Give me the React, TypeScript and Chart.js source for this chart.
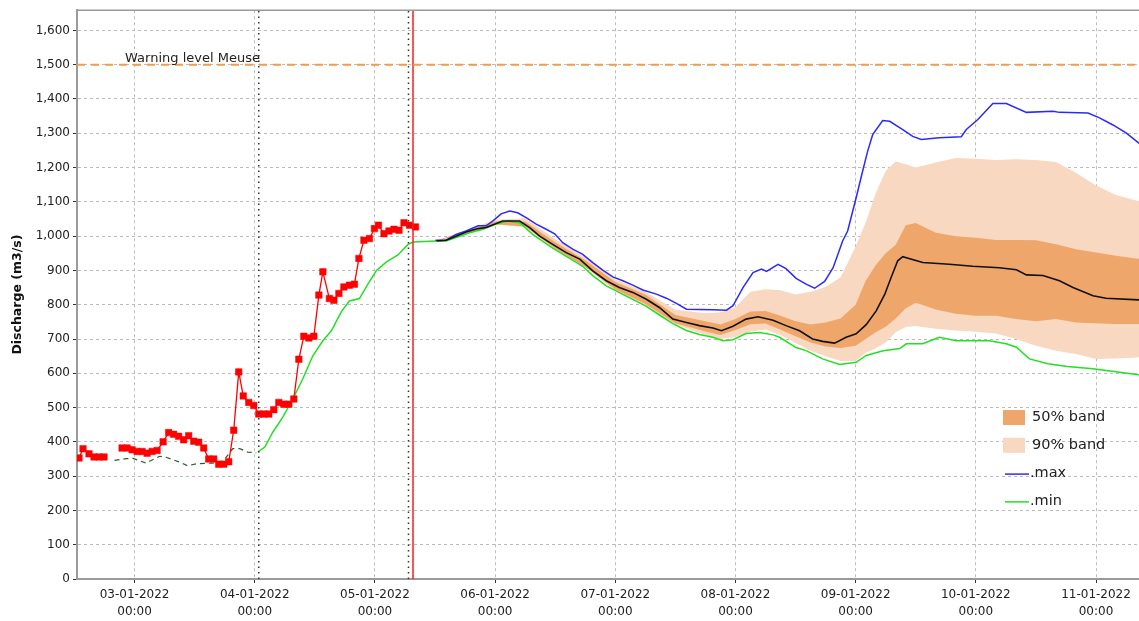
import React, { useEffect, useRef } from "react";
import { Chart, registerables } from "chart.js";

Chart.register(...registerables);

// ---------- axis ranges / ticks (hours relative to 03-01-2022 00:00) ----------
const X_MIN = -11.5;
const X_MAX = 203.3;
const Y_MAX = 1659;
const dayTickHours = [0, 24, 48, 72, 96, 120, 144, 168, 192];
const dayTickLabels = [
  "03-01-2022", "04-01-2022", "05-01-2022", "06-01-2022", "07-01-2022",
  "08-01-2022", "09-01-2022", "10-01-2022", "11-01-2022",
];
const tickTimeLabel = "00:00";
const yTickValues = [0, 100, 200, 300, 400, 500, 600, 700, 800, 900, 1000, 1100, 1200, 1300, 1400, 1500, 1600];
const yAxisTitle = "Discharge (m3/s)";

// ---------- observed discharge (red squares) ----------
const obsHours = [-11.1, -10.3, -9.1, -8.1, -7.1, -6.1, -4.3, -2.5, -1.5, -0.5, 0.5, 1.5, 2.5, 3.5, 4.5,
  5.7, 6.8, 7.8, 8.8, 9.8, 10.8, 11.8, 12.8, 13.8, 14.8, 15.8, 16.8, 17.8, 18.8, 19.8, 20.8,
  21.7, 22.8, 23.8, 24.8, 25.8, 26.8, 27.8, 28.8, 29.8, 30.8, 31.8, 32.8, 33.8, 34.8, 35.8, 36.8,
  37.6, 38.9, 39.8, 40.8, 41.8, 42.9, 43.9, 44.8, 45.8, 46.9, 47.9, 48.7, 49.8, 50.8, 51.8, 52.8, 53.8, 54.9, 56.1];
const obsValues = [353, 380, 365, 356, 356, 356, null, 382, 382, 377, 372, 372, 367, 372, 375,
  400, 427, 422, 416, 406, 418, 402, 399, 382, 350, 350, 335, 335, 342, 434, 604,
  534, 515, 506, 481, 481, 481, 494, 515, 510, 510, 525, 641, 708, 703, 708, 828,
  896, 818, 813, 833, 852, 857, 860, 935, 988, 993, 1022, 1032, 1007, 1015, 1020, 1017, 1039, 1032, 1027];

// ---------- simulated (dark green dashed) ----------
const simHours = [-4.0, -1.7, -0.3, 2.3, 5.0, 6.3, 9.0, 10.6, 12.3, 15.6, 17.6, 19.6, 21.0, 22.6, 24.3];
const simValues = [346, 351, 352, 338, 358, 355, 341, 330, 336, 338, 342, 380, 380, 370, 368];

// ---------- .min (green) ----------
const minHours = [24.6, 26.0, 27.6, 29.6, 31.6, 33.6, 35.6, 37.6, 39.3, 41.3, 42.9, 44.9, 46.6, 48.3, 50.3,
  52.6, 54.6, 55.6, 60.2, 62.2, 64.2, 66.9, 69.6, 72.2, 74.5, 76.9, 79.5, 83.5, 86.9, 89.5, 91.5, 94.2,
  98.2, 102.2, 104.8, 107.5, 110.2, 112.8, 115.5, 117.5, 119.5, 122.1, 124.8, 127.5, 128.8, 132.1, 134.1,
  137.4, 140.8, 144.1, 146.1, 149.5, 152.8, 154.1, 157.4, 160.7, 164.1, 170.7, 174.1, 176.1, 178.7, 182.4,
  186.3, 191.4, 194.0, 200.5, 203.9];
const minValues = [370, 385, 428, 472, 525, 584, 651, 695, 724, 780, 811, 818, 860, 900, 925,
  945, 976, 983, 986, 986, 996, 1010, 1020, 1035, 1044, 1039, 1005, 965, 935, 912, 885, 855,
  825, 795, 770, 745, 725, 713, 705, 695, 698, 716, 719, 712, 705, 675, 666,
  642, 626, 632, 652, 666, 672, 686, 686, 705, 695, 695, 686, 676, 642, 628,
  620, 613, 608, 596, 592];

// ---------- .max (blue) ----------
const maxHours = [60.1, 62.2, 64.2, 66.2, 68.6, 70.2, 71.5, 73.2, 74.9, 76.5, 78.2, 80.2, 82.2, 83.9, 85.5,
  87.5, 89.5, 91.5, 93.5, 95.5, 97.5, 99.5, 101.5, 104.2, 106.2, 108.2, 110.2, 112.8, 115.5, 118.2,
  119.5, 121.5, 123.5, 125.2, 126.2, 128.5, 130.1, 132.1, 134.1, 135.8, 137.8, 139.5, 141.4, 142.4, 144.1,
  145.4, 146.4, 147.4, 149.4, 150.8, 153.4, 155.4, 157.1, 160.7, 165.1, 166.1, 168.4, 171.4, 174.1, 178.1,
  183.4, 184.7, 190.4, 192.7, 195.3, 198.0, 200.5, 203.9];
const maxValues = [988, 988, 1005, 1015, 1030, 1030, 1044, 1065, 1073, 1068, 1054, 1035, 1020, 1007, 981,
  962, 947, 923, 901, 881, 870, 857, 843, 831, 819, 804, 787, 786, 785, 784,
  797, 850, 894, 904, 897, 918, 905, 877, 860, 848, 868, 908, 986, 1015, 1112,
  1190, 1248, 1296, 1337, 1335, 1311, 1291, 1282, 1287, 1290, 1311, 1340, 1387, 1387, 1361,
  1364, 1361, 1359, 1345, 1325, 1301, 1272, 1240];

// ---------- median (black) ----------
const medHours = [60.3, 62.2, 64.2, 66.2, 68.6, 70.2, 73.5, 76.9, 78.9, 80.9, 83.5, 86.2, 88.9, 91.5, 94.2,
  96.8, 99.5, 102.2, 104.8, 107.5, 110.2, 112.8, 115.5, 117.2, 119.5, 122.1, 124.5, 127.5, 130.1, 132.8,
  135.4, 137.4, 139.8, 142.1, 144.1, 146.1, 148.1, 149.8, 151.1, 152.4, 153.4, 157.4, 162.7, 167.4, 172.7,
  176.1, 178.1, 181.4, 184.7, 187.4, 191.4, 194.0, 200.5, 203.9];
const medValues = [986, 988, 1000, 1012, 1022, 1025, 1044, 1044, 1025, 1000, 976, 952, 933, 899, 870,
  850, 836, 816, 792, 758, 748, 739, 732, 724, 737, 758, 765, 755, 739, 724,
  700, 693, 688, 705, 715, 742, 782, 830, 880, 928, 940, 923, 918, 912, 908,
  902, 887, 885, 870, 850, 826, 819, 814, 812];

// ---------- uncertainty bands ----------
const bandHours = [60, 66, 72, 78, 84, 90, 96, 102, 108, 114, 117, 120, 123, 126, 129, 132, 135, 138, 141,
  144, 146, 148, 150, 152, 154, 156, 160, 164, 168, 172, 176, 180, 184, 188, 192, 196, 200, 204];
const band50Lo = [986, 1007, 1035, 1028, 964, 911, 845, 802, 746, 722, 712, 726, 743, 745, 727, 708, 690, 678, 674,
  680, 700, 720, 736, 760, 790, 806, 786, 774, 768, 768, 758, 752, 758, 748, 746, 744, 744, 744];
const band50Hi = [986, 1014, 1043, 1043, 982, 930, 866, 830, 770, 752, 742, 758, 780, 782, 768, 752, 742, 748, 760,
  800, 870, 915, 950, 975, 1032, 1038, 1010, 1000, 995, 989, 989, 988, 976, 962, 952, 943, 935, 930];
const band90Lo = [986, 1006, 1034, 1026, 962, 909, 841, 797, 743, 712, 700, 706, 722, 728, 712, 688, 666, 650, 636,
  636, 660, 672, 690, 720, 735, 738, 730, 725, 721, 716, 700, 680, 666, 656, 642, 643, 646, 650];
const band90Hi = [986, 1016, 1048, 1052, 992, 938, 874, 838, 785, 775, 778, 792, 838, 845, 842, 830, 838, 852, 880,
  970, 1040, 1125, 1190, 1218, 1210, 1200, 1215, 1228, 1226, 1222, 1224, 1222, 1216, 1185, 1148, 1120, 1104, 1090];

// ---------- reference lines ----------
const warningLevel = 1500;
const warningLabel = "Warning level Meuse";
const warningLabelHour = -1.9;
const forecastStartHour = 55.6;
const markerHours = [24.8, 54.7];

const legendItems = [
  { label: "50% band", kind: "box", color: "#eea66b" },
  { label: "90% band", kind: "box", color: "#f8d8c0" },
  { label: ".max", kind: "line", color: "#2a2aff" },
  { label: ".min", kind: "line", color: "#22e022" },
];

const FONT = '"DejaVu Sans", Verdana, sans-serif';

function zip(xs: number[], ys: (number | null)[]) {
  return xs.map((x, i) => ({ x, y: ys[i] }));
}

export default function App() {
  const canvasRef = useRef<HTMLCanvasElement | null>(null);

  useEffect(() => {
    const canvas = canvasRef.current;
    if (!canvas) return;

    const overlay = {
      id: "overlay",
      afterDatasetsDraw(chart: any) {
        const { ctx, scales } = chart;
        ctx.save();
        ctx.font = `13px ${FONT}`;
        ctx.fillStyle = "#222";
        ctx.textBaseline = "alphabetic";
        ctx.textAlign = "left";
        ctx.fillText(warningLabel, scales.x.getPixelForValue(warningLabelHour), scales.y.getPixelForValue(warningLevel) - 3);
        ctx.restore();
      },
      afterDraw(chart: any) {
        const { ctx, chartArea } = chart;
        ctx.save();
        // top frame
        ctx.strokeStyle = "#9a9a9a";
        ctx.lineWidth = 1.5;
        ctx.beginPath();
        ctx.moveTo(chartArea.left, chartArea.top);
        ctx.lineTo(chartArea.right, chartArea.top);
        ctx.stroke();
        // legend
        const lx = 1003;
        const ly = 410;
        const rowH = 27.8;
        ctx.font = `14.5px ${FONT}`;
        ctx.textBaseline = "middle";
        ctx.textAlign = "left";
        legendItems.forEach((it, i) => {
          const cy = ly + 7.5 + i * rowH;
          if (it.kind === "box") {
            ctx.fillStyle = it.color;
            ctx.fillRect(lx, cy - 7.5, 22, 15);
          } else {
            ctx.strokeStyle = it.color;
            ctx.lineWidth = 1.5;
            ctx.beginPath();
            ctx.moveTo(lx + 2, cy + 1);
            ctx.lineTo(lx + 26, cy + 1);
            ctx.stroke();
          }
          ctx.fillStyle = "#222";
          ctx.fillText(it.label, it.kind === "box" ? lx + 29 : lx + 27, cy);
        });
        ctx.restore();
      },
    };

    const lineDs = (label: string, data: any[], color: string, order: number, extra: any = {}) => ({
      type: "line",
      label,
      data,
      borderColor: color,
      backgroundColor: color,
      borderWidth: 1.5,
      pointRadius: 0,
      tension: 0,
      fill: false,
      order,
      ...extra,
    });

    const vline = (h: number) => [{ x: h, y: 0 }, { x: h, y: Y_MAX }];

    const chart = new Chart(canvas, {
      type: "line",
      data: {
        datasets: [
          lineDs("90lo", zip(bandHours, band90Lo), "rgba(0,0,0,0)", 20, { borderWidth: 0 }),
          lineDs("90% band", zip(bandHours, band90Hi), "rgba(0,0,0,0)", 19, { borderWidth: 0, fill: "-1", backgroundColor: "#f8d8c0" }),
          lineDs("50lo", zip(bandHours, band50Lo), "rgba(0,0,0,0)", 18, { borderWidth: 0 }),
          lineDs("50% band", zip(bandHours, band50Hi), "rgba(0,0,0,0)", 17, { borderWidth: 0, fill: "-1", backgroundColor: "#eea66b" }),
          lineDs("sim", zip(simHours, simValues), "#2d5e2d", 9, { borderWidth: 1.2, borderDash: [5, 4] }),
          lineDs(".min", zip(minHours, minValues), "#22e022", 8),
          lineDs(".max", zip(maxHours, maxValues), "#2a2aff", 7),
          lineDs("median", zip(medHours, medValues), "#111111", 6, { borderWidth: 1.6 }),
          lineDs("observed", zip(obsHours, obsValues), "#ff0000", 5, {
            borderWidth: 1.3,
            pointRadius: 4.6,
            pointStyle: "rect",
            pointBackgroundColor: "#ff0000",
            pointBorderColor: "#ff0000",
            pointBorderWidth: 0.5,
            spanGaps: false,
          }),
          lineDs("m1", vline(markerHours[0]), "#333333", 4, { borderWidth: 1.5, borderDash: [1.5, 4] }),
          lineDs("m2", vline(markerHours[1]), "#333333", 4, { borderWidth: 1.5, borderDash: [1.5, 4] }),
          lineDs("forecast", vline(forecastStartHour), "#ff1a1a", 3, { borderWidth: 1.5 }),
          lineDs("warning", [{ x: X_MIN, y: warningLevel }, { x: X_MAX, y: warningLevel }], "#f29a4e", 1, {
            borderWidth: 2,
            borderDash: [8, 6],
          }),
        ] as any,
      },
      options: {
        responsive: false,
        maintainAspectRatio: false,
        devicePixelRatio: 1,
        animation: false,
        events: [],
        layout: { padding: { top: 9, left: 0, right: 7.4, bottom: 0 } },
        plugins: {
          legend: { display: false },
          tooltip: { enabled: false },
          title: { display: false },
        },
        scales: {
          x: {
            type: "linear",
            min: X_MIN,
            max: X_MAX,
            afterBuildTicks: (s: any) => {
              s.ticks = dayTickHours.map((v) => ({ value: v }));
            },
            afterFit: (s: any) => {
              s.height = 42;
            },
            ticks: {
              autoSkip: false,
              maxRotation: 0,
              minRotation: 0,
              padding: 3,
              color: "#222",
              font: { family: FONT, size: 12, lineHeight: 1.45 },
              callback: (_v: any, i: number) => [dayTickLabels[i], tickTimeLabel],
            },
            grid: { color: "#bcbcbc", lineWidth: 1, tickLength: 4, tickColor: "#333", tickWidth: 1 },
            border: { display: true, color: "#9a9a9a", width: 2, dash: [3, 3] },
          },
          y: {
            type: "linear",
            min: 0,
            max: Y_MAX,
            afterBuildTicks: (s: any) => {
              s.ticks = yTickValues.map((v) => ({ value: v }));
            },
            afterFit: (s: any) => {
              s.width = 77;
            },
            ticks: {
              padding: 3,
              color: "#222",
              font: { family: FONT, size: 12 },
              callback: (v: any) => Number(v).toLocaleString("en-US"),
            },
            grid: { color: "#bcbcbc", lineWidth: 1, tickLength: 4, tickColor: "#333", tickWidth: 1 },
            border: { display: true, color: "#9a9a9a", width: 2, dash: [3, 3] },
            title: {
              display: true,
              text: yAxisTitle,
              color: "#111",
              font: { family: FONT, size: 12.5, weight: "bold" },
              padding: { top: 10, bottom: 0 },
            },
          },
        },
      } as any,
      plugins: [overlay as any],
    });

    return () => chart.destroy();
  }, []);

  return (
    <div
      style={{
        position: "fixed",
        left: 0,
        top: 0,
        width: 1139,
        height: 621,
        overflow: "hidden",
        background: "#fff",
      }}
    >
      <canvas ref={canvasRef} width={1160} height={621} style={{ display: "block", width: 1160, height: 621 }} />
    </div>
  );
}
